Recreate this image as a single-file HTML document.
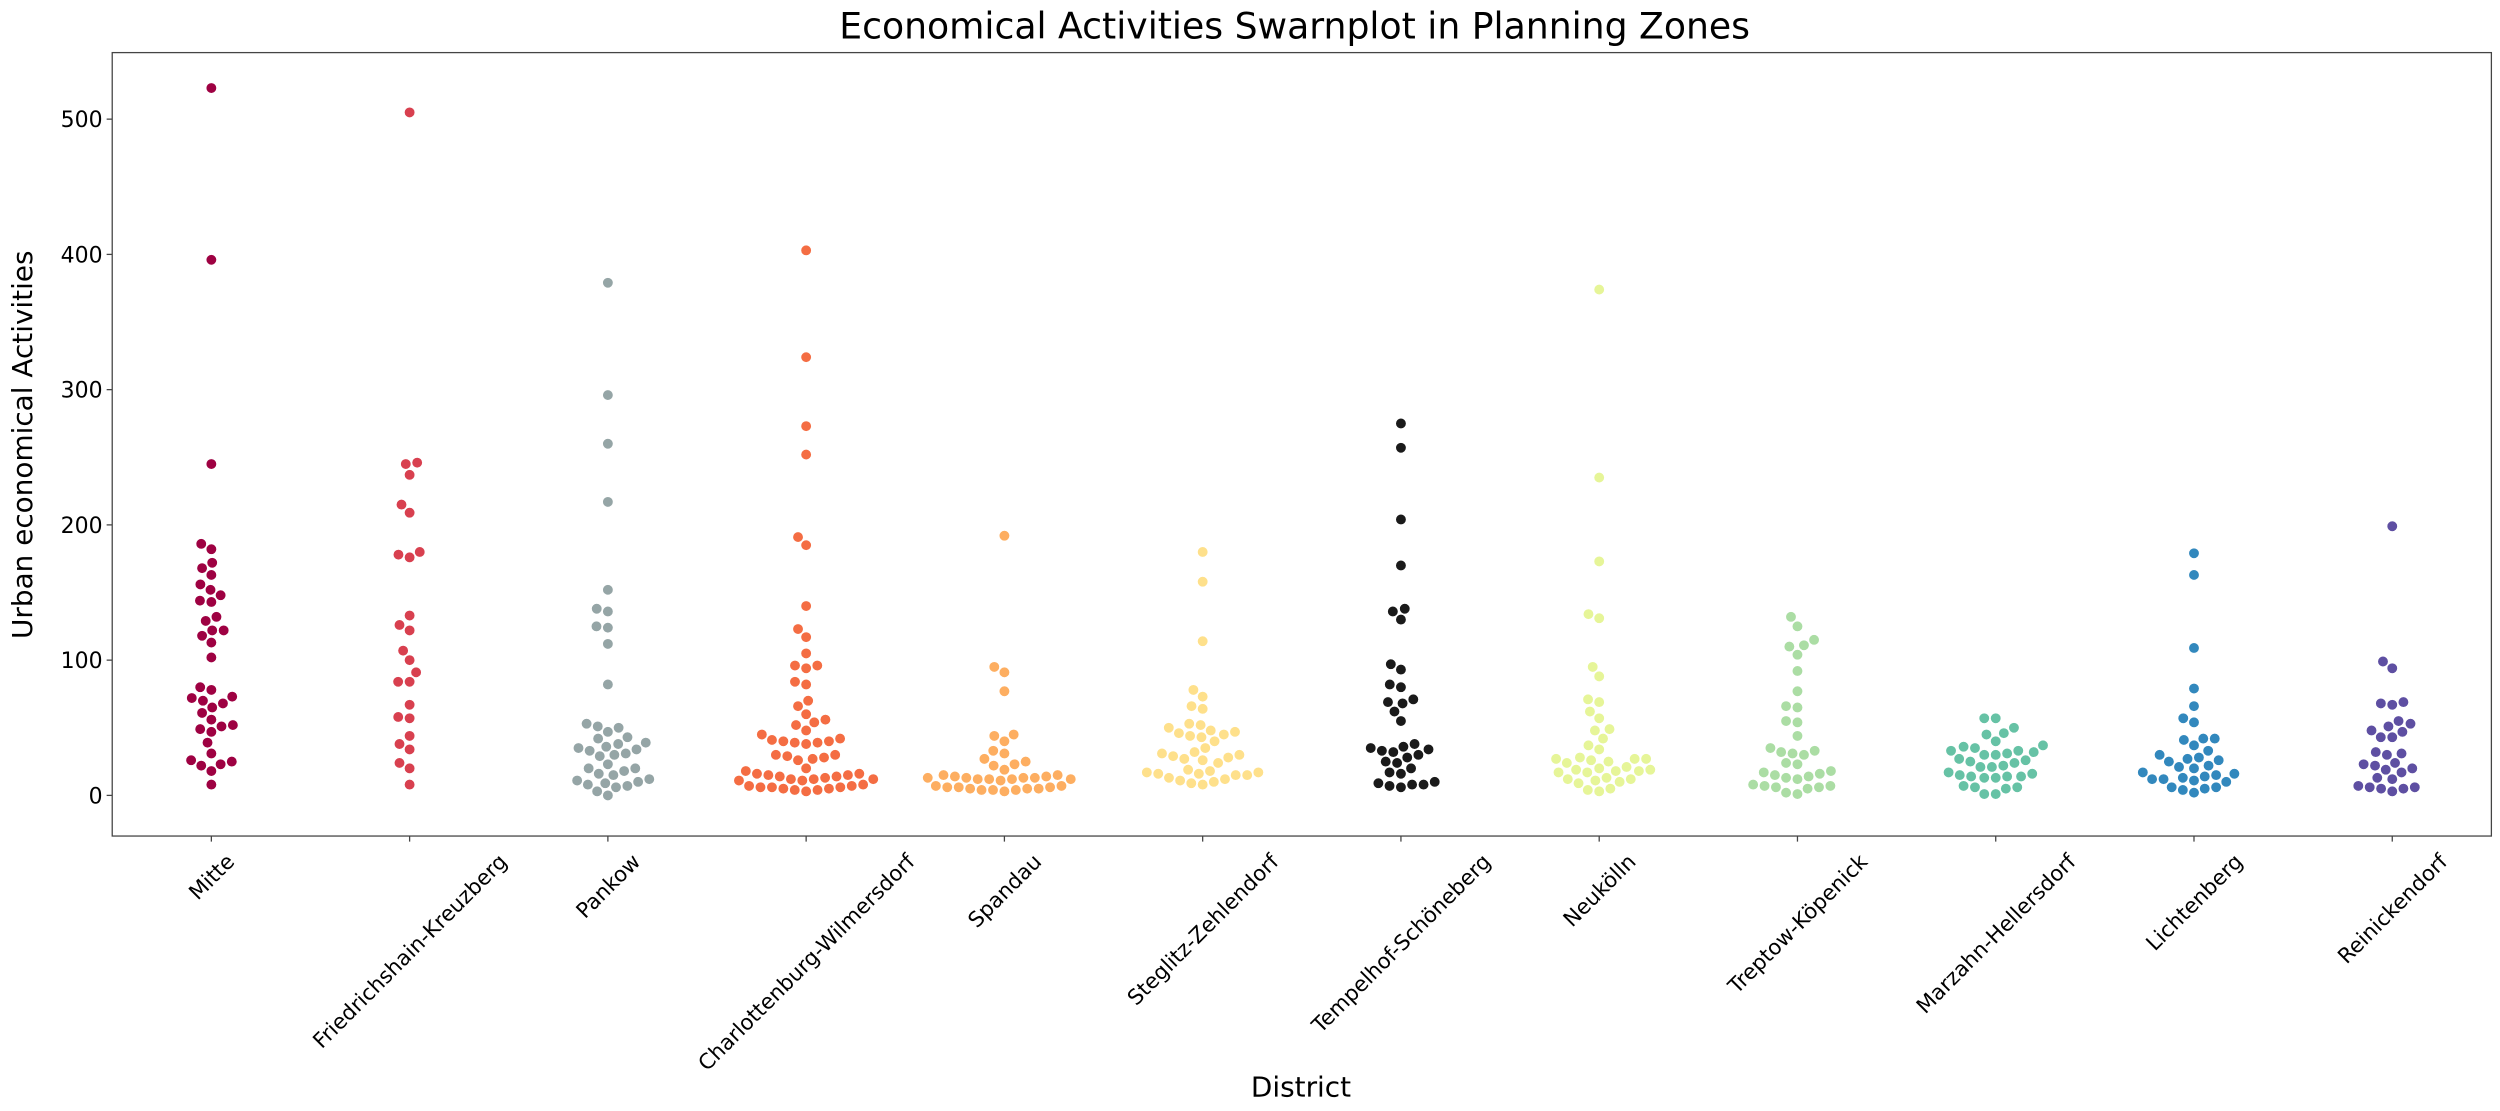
<!DOCTYPE html>
<html><head><meta charset="utf-8">
<style>
html,body{margin:0;padding:0;background:#fff;}
svg{display:block;font-family:"DejaVu Sans","Liberation Sans",sans-serif;}
</style></head>
<body>
<svg id="chart" width="2500" height="1111" viewBox="0 0 1568 697" xmlns="http://www.w3.org/2000/svg">
<rect x="0" y="0" width="1568" height="697" fill="#fff"/>
<text x="812" y="24" font-size="22.7" text-anchor="middle" fill="#000">Economical Activities Swarnplot in Planning Zones</text>
<text transform="translate(20,279) rotate(-90)" font-size="17.5" text-anchor="middle" fill="#000">Urban economical Activities</text>
<text x="816" y="688" font-size="17.5" text-anchor="middle" fill="#000">District</text>
<g id="yticks"></g>
<g id="xticks"></g>
<g id="points"></g>
<rect x="70.2" y="33" width="1492.6" height="491.5" fill="none" stroke="#444" stroke-width="0.8"/>
</svg>
<script>
const categories = ["Mitte","Friedrichshain-Kreuzberg","Pankow","Charlottenburg-Wilmersdorf","Spandau","Steglitz-Zehlendorf","Tempelhof-Schöneberg","Neukölln","Treptow-Köpenick","Marzahn-Hellersdorf","Lichtenberg","Reinickendorf"];
const colors = ["#9e0142","#d8404f","#95a5a6","#f46d43","#fdae61","#fee08b","#1a1a1a","#e6f598","#abdda4","#66c2a5","#3288bd","#5e4fa2"];
const yTicks = [0,100,200,300,400,500];
const mitte = [523,396,245,186,182,172,168,163,156,152,148,144,143,132,129,122,122,118,113,102,80,78,73,72,70,68,65,61,56,52,51,49,47,39,31,26,25,23,22,18,8];
const friedrichshain = [505,246,245,237,215,209,180,178,176,133,126,122,107,100,91,84,84,67,58,57,44,38,34,24,20,8];
const pankow = [379,296,260,217,152,138,136,125,124,112,82,53,51,50,47,43,42,39,38,36,35,34,33,31,30,29,23,20,20,18,16,15,12,11,10,9,8,7,6,3,0];
const charlottenburg = [403,324,273,252,191,185,140,123,117,105,96,96,94,84,82,70,66,60,56,54,52,48,45,42,40,39,39,38,40,41,30,28,29,30,27,26,20,18,16,15,14,15,16,12,11,12,13,12,11,14,7,6,5,4,3,6,5,7,4,6,8];
const spandau = [192,95,91,77,45,44,40,33,31,27,25,23,22,19,15,14,13,12,13,12,11,12,13,14,13,12,15,7,6,5,4,3,6,5,4,7,5,4,6];
const steglitz = [180,158,114,78,73,66,64,53,52,50,48,47,46,45,44,43,40,35,32,31,30,29,28,27,26,24,19,18,17,17,16,16,15,15,13,12,11,10,9,8];
const tempelhof = [275,257,204,170,138,136,130,97,93,82,80,71,69,68,62,55,38,36,35,33,34,32,30,28,25,24,20,17,16,10,8,7,6,8,9];
const neukoelln = [374,235,173,134,131,95,88,71,69,62,57,49,48,42,37,34,28,27,27,26,25,24,27,21,20,19,19,18,17,18,17,13,12,10,11,9,12,4,3,5];
const treptow = [132,125,115,111,110,104,92,77,66,65,55,54,44,35,33,32,31,30,24,23,18,17,15,14,13,12,16,7,6,5,6,7,8,2,1];
const marzahn = [57,57,50,46,45,40,37,36,35,33,33,32,31,30,30,27,26,25,24,22,21,21,17,16,15,14,14,14,13,13,6,6,7,5,1,1];
const lichtenberg = [179,163,109,79,66,57,54,42,42,41,37,33,30,28,27,26,25,22,21,20,17,16,15,14,13,12,12,11,10,6,6,5,4,2];
const reinickendorf = [199,99,94,69,68,67,55,53,51,48,47,43,43,32,31,30,24,23,22,20,19,17,13,12,7,6,5,5,6,3];
const seriesValues = [mitte,friedrichshain,pankow,charlottenburg,spandau,steglitz,tempelhof,neukoelln,treptow,marzahn,lichtenberg,reinickendorf];

const NS="http://www.w3.org/2000/svg";
const plotL=70.2, plotR=1562.8, plotT=33, plotB=524.5;
const y0px=499, perUnit=0.8485;
function yScale(v){return y0px - v*perUnit;}
function xScale(i){const w=(plotR-plotL)/categories.length;return plotL + w*(i+0.5);}
function mk(tag,attrs,parent){const e=document.createElementNS(NS,tag);for(const k in attrs)e.setAttribute(k,attrs[k]);parent.appendChild(e);return e;}

const yg=document.getElementById('yticks');
yTicks.forEach(t=>{
  const y=yScale(t);
  const l=mk('line',{x1:plotL-3.5,x2:plotL,y1:y,y2:y,stroke:'#444','stroke-width':0.8},yg);
  
  
  const tx=mk('text',{x:plotL-6,y:y+5,'font-size':13.8,'text-anchor':'end',fill:'#000'},yg);
  tx.textContent=t;
  
  
});
const xg=document.getElementById('xticks');
const fsX=13.3;
categories.forEach((c,i)=>{
  const x=xScale(i);
  const l=mk('line',{x1:x,x2:x,y1:plotB,y2:plotB+3.5,stroke:'#444','stroke-width':0.8},xg);
  
  
  const tx=mk('text',{x:0,y:0,'font-size':fsX,'text-anchor':'middle',fill:'#000'},xg);
  tx.textContent=c;
  
  
  const len=tx.getComputedTextLength();
  const hh=fsX*1.17;
  const boxH=(len+hh)*Math.SQRT1_2;
  const cy=plotB+8+boxH/2;
  tx.setAttribute('transform',`translate(${x},${cy}) rotate(-45) translate(0,${fsX*0.36})`);
});

const D=7.2;
function swarm(vals){
  const ys=vals.map(yScale).sort((a,b)=>b-a);
  const placed=[];
  ys.forEach(y=>{
    const near=placed.filter(p=>Math.abs(p.y-y)<D);
    const cands=[0];
    near.forEach(p=>{const dx=Math.sqrt(D*D-(p.y-y)*(p.y-y));cands.push(p.x+dx,p.x-dx);});
    cands.sort((a,b)=>Math.abs(a)-Math.abs(b)||a-b);
    let best=0;
    for(const cx of cands){
      if(near.every(p=>(p.x-cx)*(p.x-cx)+(p.y-y)*(p.y-y)>=D*D-0.01)){best=cx;break;}
    }
    placed.push({x:best,y:y});
  });
  return placed;
}
const pg=document.getElementById('points');
seriesValues.forEach((vals,i)=>{
  const g=mk('g',{},pg);
  
  
  swarm(vals).forEach(p=>{
    const c=mk('circle',{cx:xScale(i)+p.x,cy:p.y,r:3.3,fill:colors[i],stroke:'#fff','stroke-width':0.4},g);
    
    
  });
});
</script>
</body></html>
